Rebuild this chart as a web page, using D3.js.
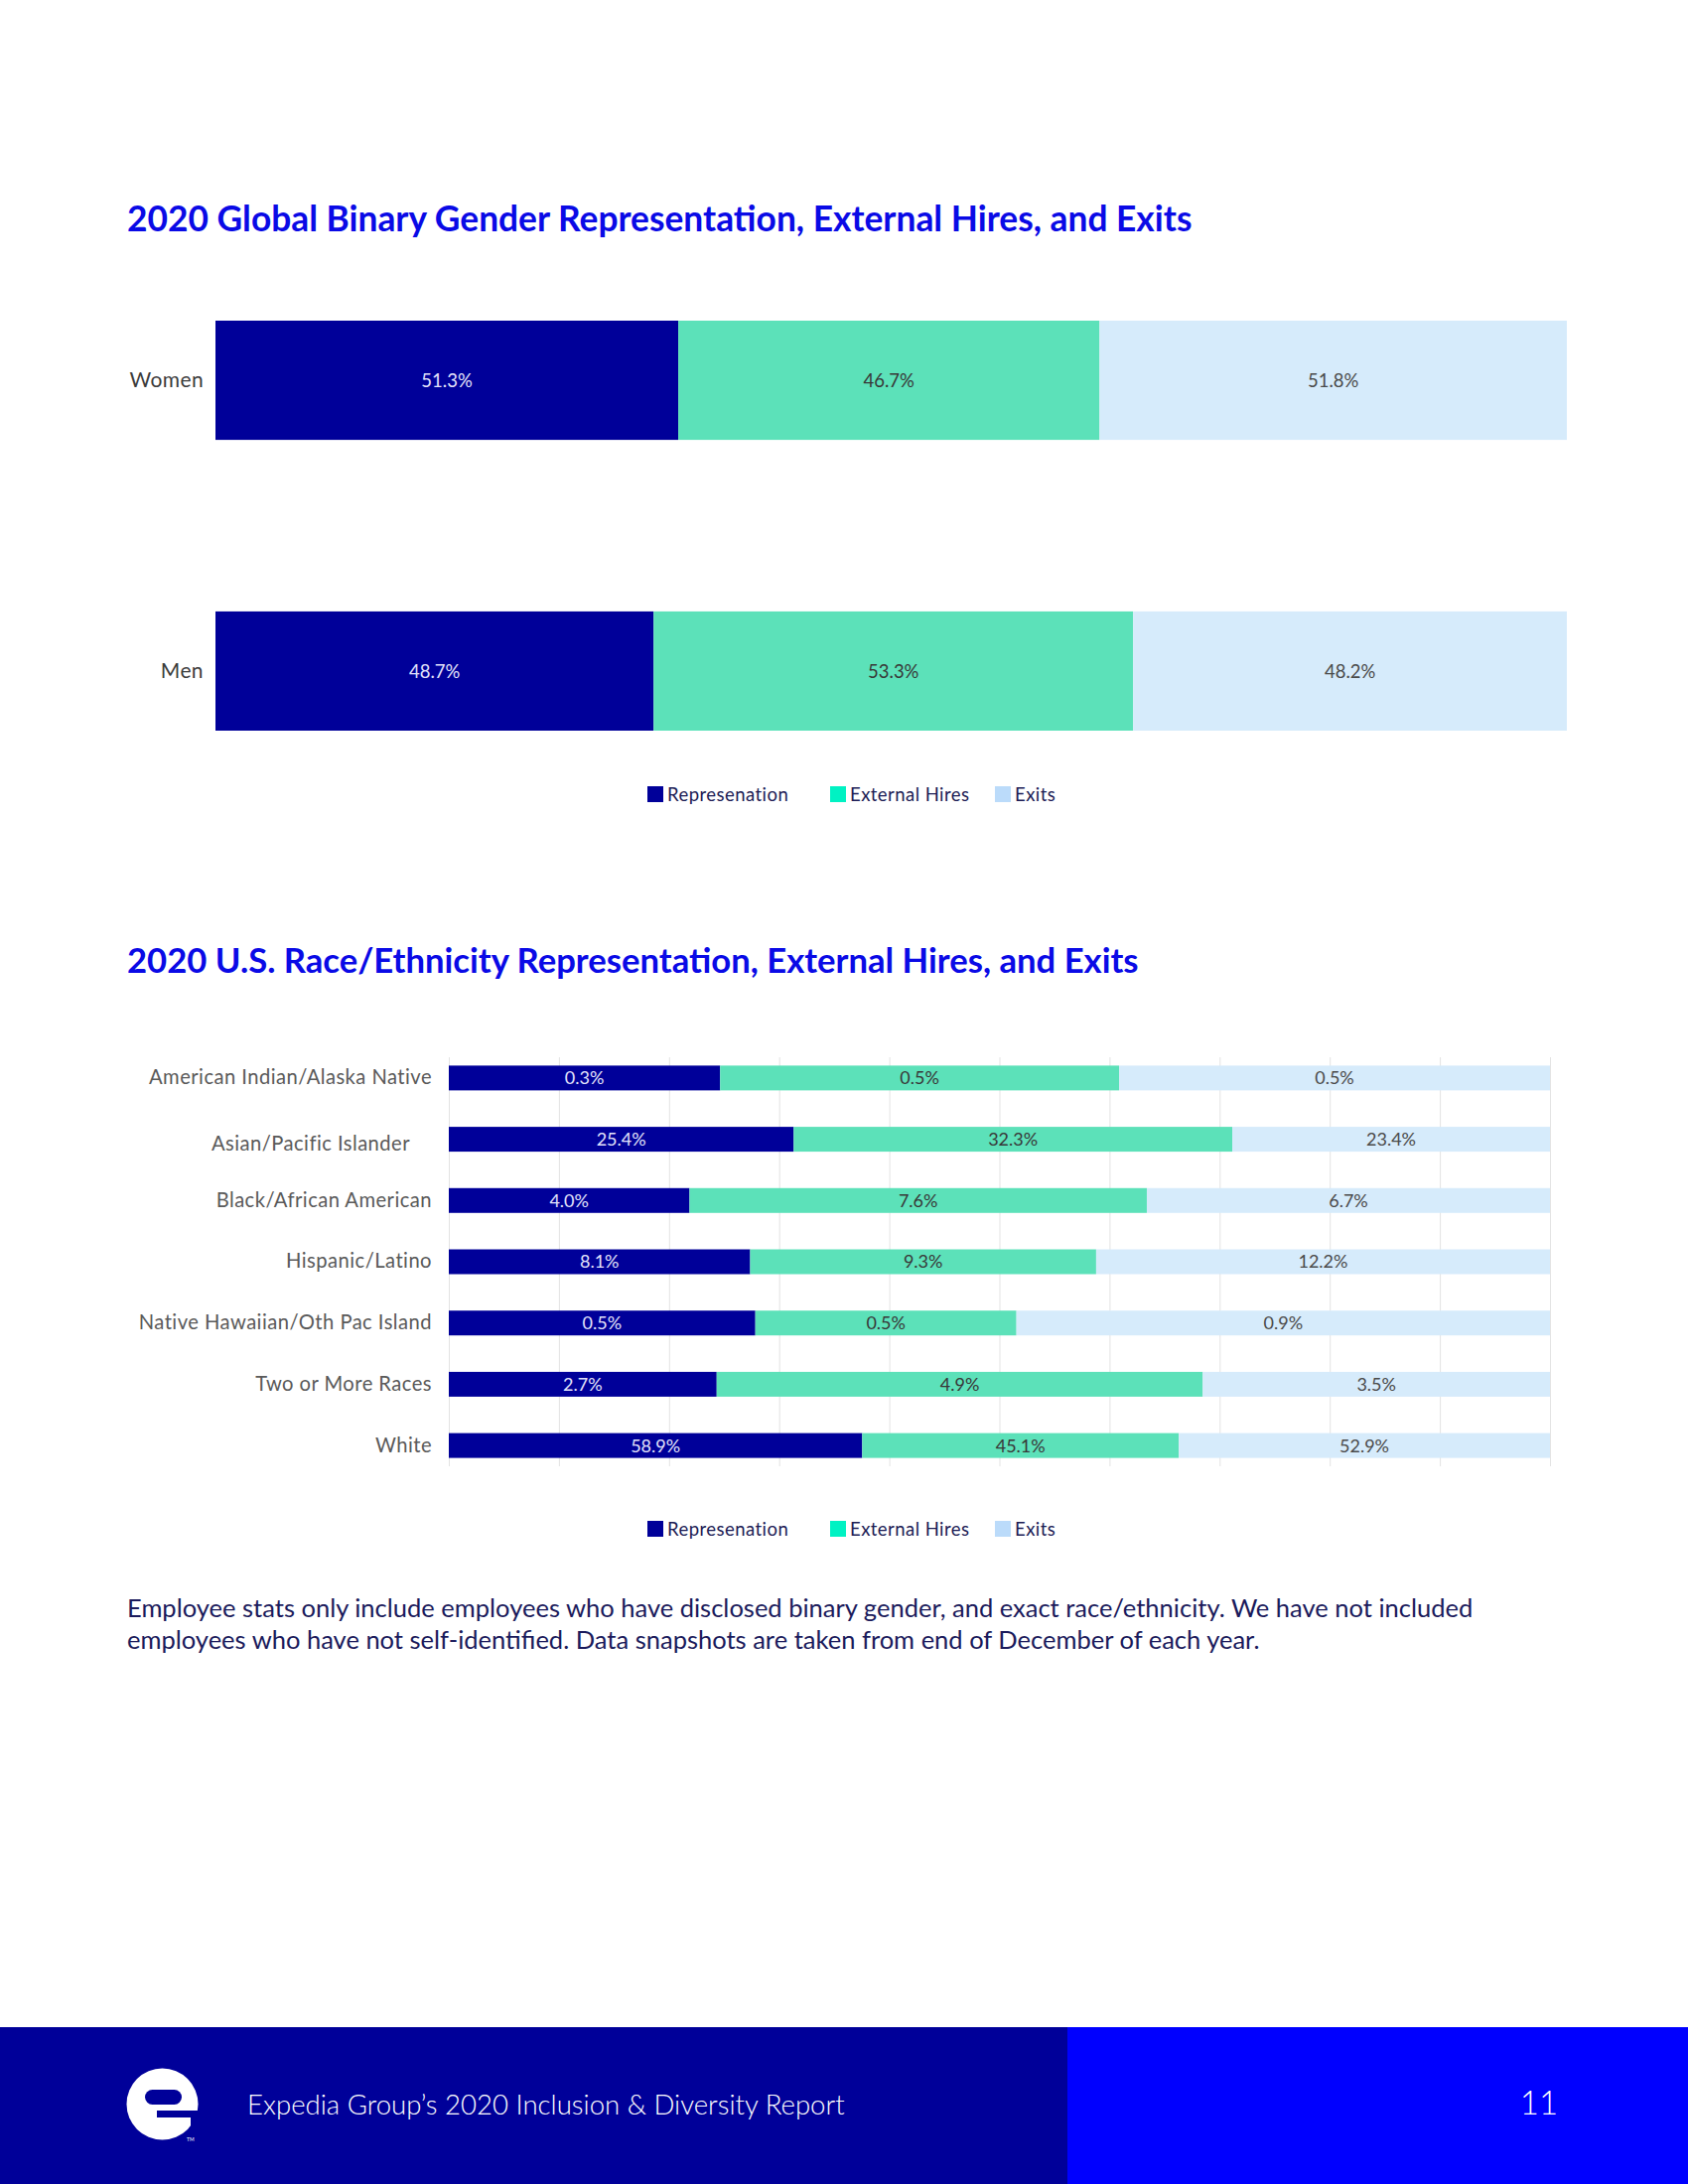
<!DOCTYPE html>
<html>
<head>
<meta charset="utf-8">
<script src="https://cdn.jsdelivr.net/npm/d3@7"></script>
<style>
body { margin: 0; background: #fff; }
svg text { font-family: Lato, 'Noto Sans', sans-serif; }
</style>
</head>
<body>
<svg id="page" width="1700" height="2200"></svg>
<script>
// series (typo kept as in the source)
const seriesNames = ["Represenation", "External Hires", "Exits"];

const genderCats = ["Women", "Men"];
const genderRep = [51.3, 48.7];
const genderHires = [46.7, 53.3];
const genderExits = [51.8, 48.2];

const raceCats = [
    "American Indian/Alaska Native",
    "Asian/Pacific Islander",
    "Black/African American",
    "Hispanic/Latino",
    "Native Hawaiian/Oth Pac Island",
    "Two or More Races",
    "White"
];
const raceRep = [0.34, 25.4, 4.0, 8.1, 0.54, 2.7, 58.9];
const raceHires = [0.50, 32.3, 7.6, 9.3, 0.46, 4.9, 45.1];
const raceExits = [0.54, 23.4, 6.7, 12.2, 0.94, 3.5, 52.9];

const raceTicks = d3.range(0, 11).map(d => d / 10);

const barColors = ["#000099", "#5ce1b9", "#d6ebfb"];
const legendColors = ["#000099", "#00f2c3", "#bbdbfa"];
const valueColors = ["#e2e2fb", "#383838", "#4a4a4a"];
const fmt = d3.format(".1f");

const svg = d3.select("#page");

// scale a text's font so it spans the wanted width
function fitWidth(t, w) {
    const cur = t.node().getComputedTextLength();
    const fs = parseFloat(t.attr("font-size"));
    t.attr("font-size", (fs * w / cur).toFixed(2));
}

function stackRows(cats, rep, hires, exits) {
    const rows = cats.map((c, i) => ({ cat: c, 0: rep[i], 1: hires[i], 2: exits[i] }));
    return d3.stack().keys([0, 1, 2]).offset(d3.stackOffsetExpand)(rows);
}

function drawBars(series, x, y, fontSize) {
    const g = svg.append("g");
    series.forEach((s, k) => {
        g.selectAll(null)
            .data(s)
            .enter()
            .append("rect")
            .attr("x", d => x(d[0]))
            .attr("y", d => y(d.data.cat))
            .attr("width", d => x(d[1]) - x(d[0]))
            .attr("height", y.bandwidth())
            .attr("fill", barColors[k]);

        g.selectAll(null)
            .data(s)
            .enter()
            .append("text")
            .attr("x", d => (x(d[0]) + x(d[1])) / 2)
            .attr("y", d => y(d.data.cat) + y.bandwidth() / 2)
            .attr("dy", "0.36em")
            .attr("text-anchor", "middle")
            .attr("font-size", fontSize)
            .attr("fill", valueColors[k])
            .text(d => fmt(d.data[k]) + "%");
    });
}

function drawLegend(yc) {
    const xs = [652, 836, 1002];
    const g = svg.append("g");
    seriesNames.forEach((n, i) => {
        g.append("rect")
            .attr("x", xs[i]).attr("y", yc - 8)
            .attr("width", 16).attr("height", 16)
            .attr("fill", legendColors[i]);
        g.append("text")
            .attr("x", xs[i] + 20).attr("y", yc)
            .attr("dy", "0.36em")
            .attr("font-size", 18.5)
            .attr("letter-spacing", 0.45)
            .attr("fill", "#1c1c55")
            .text(n);
    });
}

function title(txt, yb, w) {
    const t = svg.append("text")
        .attr("x", 128).attr("y", yb)
        .attr("font-size", 30)
        .attr("font-weight", 700)
        .attr("fill", "#0a0ae6")
        .text(txt);
    fitWidth(t, w);
}

// ---------- gender chart ----------
title("2020 Global Binary Gender Representation, External Hires, and Exits", 233, 1073);

const gx = d3.scaleLinear().domain([0, 1]).range([217, 1578]);
const gy = d3.scaleBand().domain(genderCats).range([323, 736]).paddingInner(0.59).paddingOuter(0);

drawBars(stackRows(genderCats, genderRep, genderHires, genderExits), gx, gy, 18.5);

svg.append("g")
    .attr("transform", "translate(217,0)")
    .call(d3.axisLeft(gy).tickSize(0).tickPadding(12))
    .call(a => a.select(".domain").remove())
    .selectAll("text")
    .attr("font-size", 21)
    .attr("letter-spacing", 0.4)
    .attr("fill", "#3c3c3c");

drawLegend(800);

// ---------- race chart ----------
title("2020 U.S. Race/Ethnicity Representation, External Hires, and Exits", 980, 1019);

const rx = d3.scaleLinear().domain([0, 1]).range([452, 1561]);
const ry = d3.scaleBand().domain(raceCats).range([1065, 1477]).paddingInner(0.595).paddingOuter(0.136);

svg.append("g")
    .attr("transform", "translate(0,1477)")
    .call(d3.axisBottom(rx).tickValues(raceTicks).tickSize(-412).tickFormat(""))
    .call(a => a.select(".domain").remove())
    .selectAll("line")
    .attr("stroke", "#e3e3e3");

drawBars(stackRows(raceCats, raceRep, raceHires, raceExits), rx, ry, 18);

svg.append("g")
    .attr("transform", "translate(452,0)")
    .call(d3.axisLeft(ry).tickSize(0).tickPadding(17))
    .call(a => a.select(".domain").remove())
    .selectAll("text")
    .attr("font-size", 20.2)
    .attr("letter-spacing", 0.45)
    .attr("fill", "#5a5a5a")
    .attr("dx", d => d === "Asian/Pacific Islander" ? -22 : 0)
    .attr("dy", d => d === "Asian/Pacific Islander" ? "0.55em" : "0.32em");

drawLegend(1540);

// ---------- footnote ----------
const note1 = svg.append("text")
    .attr("x", 128).attr("y", 1629)
    .attr("font-size", 21)
    .attr("fill", "#1b1b5c")
    .text("Employee stats only include employees who have disclosed binary gender, and exact race/ethnicity. We have not included");
fitWidth(note1, 1356);
svg.append("text")
    .attr("x", 128).attr("y", 1661)
    .attr("font-size", note1.attr("font-size"))
    .attr("fill", "#1b1b5c")
    .text("employees who have not self-identified. Data snapshots are taken from end of December of each year.");

// ---------- footer ----------
svg.append("rect").attr("x", 0).attr("y", 2042).attr("width", 1075).attr("height", 158).attr("fill", "#000099");
svg.append("rect").attr("x", 1075).attr("y", 2042).attr("width", 625).attr("height", 158).attr("fill", "#0000ff");

// logo
const logo = svg.append("g");
logo.append("circle").attr("cx", 163.5).attr("cy", 2119.5).attr("r", 36).attr("fill", "#fff");
logo.append("rect").attr("x", 146).attr("y", 2105).attr("width", 37).attr("height", 15).attr("rx", 7.5).attr("fill", "#000099");
logo.append("rect").attr("x", 158).attr("y", 2126).attr("width", 44).attr("height", 7).attr("fill", "#000099");
logo.append("rect").attr("x", 192).attr("y", 2126).attr("width", 10).attr("height", 18).attr("fill", "#000099");
logo.append("text").attr("x", 188).attr("y", 2157).attr("font-size", 5).attr("fill", "#fff").text("TM");

const foot = svg.append("text")
    .attr("x", 249).attr("y", 2130)
    .attr("font-size", 25)
    .attr("font-weight", 300)
    .attr("fill", "#fff")
    .text("Expedia Group\u2019s 2020 Inclusion & Diversity Report");
fitWidth(foot, 602);

svg.append("text")
    .attr("x", 1550).attr("y", 2130)
    .attr("text-anchor", "middle")
    .attr("font-size", 33)
    .attr("font-weight", 300)
    .attr("fill", "#fff")
    .text("11");
</script>
</body>
</html>
